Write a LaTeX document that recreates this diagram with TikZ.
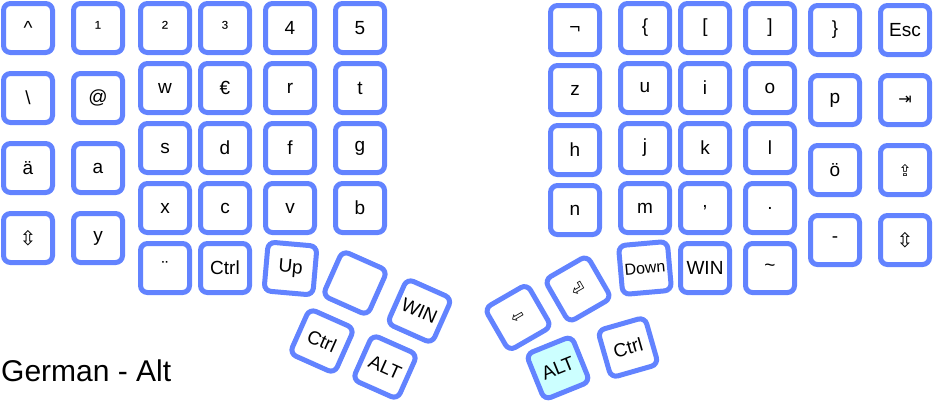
\documentclass[tikz,border=0pt]{standalone}
\usepackage{fontspec}
\setmainfont{Liberation Sans}
\newfontfamily\symfont{DejaVu Sans}
\definecolor{keyblue}{RGB}{98,131,255}
\definecolor{altcyan}{RGB}{204,255,255}
\tikzset{
  key/.style={draw=keyblue,line width=5pt,rounded corners=7pt,minimum size=49pt,
    inner sep=0pt,font=\fontsize{19}{21}\selectfont},
  sym/.style={font=\fontsize{16}{18}\symfont},
  bigsym/.style={font=\fontsize{20}{22}\symfont}
}
\begin{document}
\begin{tikzpicture}[x=1pt,y=-1pt]
\useasboundingbox (0,0) rectangle (933,405);
% left half
\node[key] (l00) at (28,28) {\textasciicircum};
\node[key] (l01) at (28,98) {\textbackslash};
\node[key] (l02) at (28,168) {ä};
\node[key,bigsym] (l03) at (28,238) {⇳};
\node[key] (l10) at (98,28) {¹};
\node[key] (l11) at (98,98) {@};
\node[key] (l12) at (98,168) {a};
\node[key] (l13) at (98,238) {y};
\node[key] (l20) at (165,28) {²};
\node[key] (l21) at (165,88) {w};
\node[key] (l22) at (165,148) {s};
\node[key] (l23) at (165,208) {x};
\node[key] (l24) at (165,268) {¨};
\node[key] (l30) at (225,28) {³};
\node[key] (l31) at (225,88) {€};
\node[key] (l32) at (225,148) {d};
\node[key] (l33) at (225,208) {c};
\node[key] (l34) at (225,268) {Ctrl};
\node[key] (l40) at (290,28) {4};
\node[key] (l41) at (290,88) {r};
\node[key] (l42) at (290,148) {f};
\node[key] (l43) at (290,208) {v};
\node[key,rotate=-5] (l44) at (290.5,268.5) {Up};
\node[key] (l50) at (360,28) {5};
\node[key] (l51) at (360,88) {t};
\node[key] (l52) at (360,148) {g};
\node[key] (l53) at (360,208) {b};
% left thumb
\node[key,rotate=-24] (lt1) at (355,283) {};
\node[key,rotate=-24] (lt2) at (419.5,311) {WIN};
\node[key,rotate=-24] (lt3) at (322,341) {Ctrl};
\node[key,rotate=-24] (lt4) at (385,367) {ALT};
% right half
\node[key] (r00) at (575,30) {¬};
\node[key] (r01) at (575,90) {z};
\node[key] (r02) at (575,150) {h};
\node[key] (r03) at (575,210) {n};
\node[key] (r10) at (645,28) {\{};
\node[key] (r11) at (645,88) {u};
\node[key] (r12) at (645,148) {j};
\node[key] (r13) at (645,208) {m};
\node[key,rotate=5,font=\fontsize{16}{18}\selectfont] (r14) at (645,268) {Down};
\node[key] (r20) at (705,28) {[};
\node[key] (r21) at (705,88) {i};
\node[key] (r22) at (705,148) {k};
\node[key] (r23) at (705,208) {,};
\node[key] (r24) at (705,268) {WIN};
\node[key] (r30) at (770,28) {]};
\node[key] (r31) at (770,88) {o};
\node[key] (r32) at (770,148) {l};
\node[key] (r33) at (770,208) {.};
\node[key] (r34) at (770,268) {\textasciitilde};
\node[key] (r40) at (835,30) {\}};
\node[key] (r41) at (835,100) {p};
\node[key] (r42) at (835,170) {ö};
\node[key] (r43) at (835,240) {-};
\node[key] (r50) at (905,30) {Esc};
\node[key,sym] (r51) at (905,100) {⇥};
\node[key,sym] (r52) at (905,170) {⇪};
\node[key,bigsym] (r53) at (905,240) {⇳};
% right thumb
\node[key,sym,rotate=30] (rt1) at (518,317.5) {⇦};
\node[key,sym,rotate=30] (rt2) at (578,289) {⏎};
\node[key,fill=altcyan,rotate=22] (rt3) at (558,368) {ALT};
\node[key,rotate=16] (rt4) at (628,347.5) {Ctrl};
% title
\node[anchor=base west,inner sep=0pt,font=\fontsize{30}{33}\selectfont] (title) at (1,381) {German - Alt};
\end{tikzpicture}
\end{document}
